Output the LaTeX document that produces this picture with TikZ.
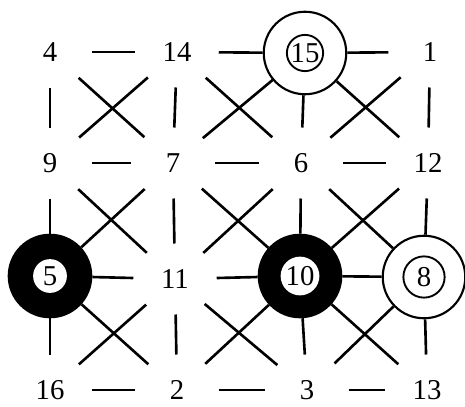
\documentclass[tikz,border=0pt]{standalone}
\usepackage{fontspec}
\setmainfont{Liberation Serif}
\usetikzlibrary{shapes.geometric}

\begin{document}
\begin{tikzpicture}[x=0.4pt, y=-0.4pt,
    num/.style={ellipse, minimum width=33pt, minimum height=28pt, inner sep=0pt, font=\fontsize{11.5}{13}\selectfont},
    ring/.style={circle, draw, line width=0.85pt, minimum size=33pt, inner sep=0pt},
    dark/.style={ring, fill=black},
    hole/.style={circle, fill=white, minimum size=13.5pt, inner sep=0pt, font=\fontsize{11.5}{13}\selectfont},
    ringed/.style={hole, draw, line width=0.75pt},
    ln/.style={line width=1.05pt}
]
\useasboundingbox (0,0) rectangle (465,406);

% row 1
\node[num] (n4) at (50,52) {4};
\node[num] (n14) at (177,52) {14};
\node[ring] (n15) at (305,53) {};
\node[ringed, minimum size=14.5pt] (n15c) at (n15) {15};
\node[num] (n1) at (430,52) {1};
% row 2
\node[num] (n9) at (50,163) {9};
\node[num] (n7) at (173,163) {7};
\node[num] (n6) at (301,163) {6};
\node[num] (n12) at (428,163) {12};
% row 3
\node[dark] (n5) at (50,276) {};
\node[hole, minimum size=13.5pt] (n5c) at (n5) {5};
\node[num] (n11) at (175,279) {11};
\node[dark] (n10) at (300,276) {};
\node[hole, minimum size=15.5pt] (n10c) at (n10) {10};
\node[ring] (n8) at (424,277) {};
\node[ringed, minimum size=16.5pt] (n8c) at (n8) {8};
% row 4
\node[num] (n16) at (50,390) {16};
\node[num] (n2) at (177,390) {2};
\node[num] (n3) at (307,390) {3};
\node[num] (n13) at (427,390) {13};

% horizontal
\draw[ln] (n4) -- (n14); \draw[ln] (n14) -- (n15); \draw[ln] (n15) -- (n1);
\draw[ln] (n9) -- (n7); \draw[ln] (n7) -- (n6); \draw[ln] (n6) -- (n12);
\draw[ln] (n5) -- (n11); \draw[ln] (n11) -- (n10); \draw[ln] (n10) -- (n8);
\draw[ln] (n16) -- (n2); \draw[ln] (n2) -- (n3); \draw[ln] (n3) -- (n13);
% vertical
\draw[ln] (n4) -- (n9); \draw[ln] (n9) -- (n5); \draw[ln] (n5) -- (n16);
\draw[ln] (n14) -- (n7); \draw[ln] (n7) -- (n11); \draw[ln] (n11) -- (n2);
\draw[ln] (n15) -- (n6); \draw[ln] (n6) -- (n10); \draw[ln] (n10) -- (n3);
\draw[ln] (n1) -- (n12); \draw[ln] (n12) -- (n8); \draw[ln] (n8) -- (n13);
% diagonals
\draw[ln] (n4) -- (n7); \draw[ln] (n14) -- (n9);
\draw[ln] (n14) -- (n6); \draw[ln] (n15) -- (n7);
\draw[ln] (n15) -- (n12); \draw[ln] (n1) -- (n6);
\draw[ln] (n9) -- (n11); \draw[ln] (n7) -- (n5);
\draw[ln] (n7) -- (n10); \draw[ln] (n6) -- (n11);
\draw[ln] (n6) -- (n8); \draw[ln] (n12) -- (n10);
\draw[ln] (n5) -- (n2); \draw[ln] (n11) -- (n16);
\draw[ln] (n11) -- (n3); \draw[ln] (n10) -- (n2);
\draw[ln] (n10) -- (n13); \draw[ln] (n8) -- (n3);
\end{tikzpicture}
\end{document}
